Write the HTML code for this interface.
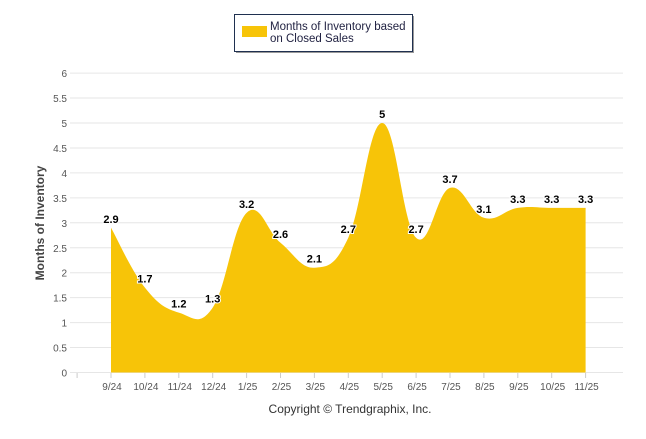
<!DOCTYPE html>
<html><head><meta charset="utf-8"><style>
body{margin:0;background:#fff;font-family:"Liberation Sans",sans-serif}
</style></head><body>
<svg width="646" height="434" xmlns="http://www.w3.org/2000/svg" font-family="Liberation Sans, sans-serif">
<g>
<rect x="234.5" y="14.5" width="178" height="37" fill="#fff" stroke="#1f3050"/>
<line x1="236" y1="52.5" x2="414" y2="52.5" stroke="#999"/>
<line x1="413.5" y1="16" x2="413.5" y2="53" stroke="#999"/>
<rect x="242" y="26" width="25" height="11" fill="#f7c408"/>
<text x="270" y="30" font-size="11.5" fill="#1f2040">Months of Inventory based</text>
<text x="270" y="42" font-size="11.5" fill="#1f2040">on Closed Sales</text>
</g>
<g id="grid"></g><g id="area"></g><g id="labels"></g><g id="axis"></g>
<text x="44" y="223" transform="rotate(-90 44 223)" text-anchor="middle" font-size="12" font-weight="bold" fill="#444">Months of Inventory</text>
<text x="350" y="413" text-anchor="middle" font-size="12" fill="#333">Copyright © Trendgraphix, Inc.</text>
</svg>
<script>
const categories=["9/24","10/24","11/24","12/24","1/25","2/25","3/25","4/25","5/25","6/25","7/25","8/25","9/25","10/25","11/25"];
const values=[2.9,1.7,1.2,1.3,3.2,2.6,2.1,2.7,5,2.7,3.7,3.1,3.3,3.3,3.3];
const yTicks=[0,0.5,1,1.5,2,2.5,3,3.5,4,4.5,5,5.5,6];
const NS="http://www.w3.org/2000/svg";
const x=i=>111+i*33.9, y=v=>372.5-v*49.9;
function mk(t,a,p){const e=document.createElementNS(NS,t);for(const k in a)e.setAttribute(k,a[k]);p.appendChild(e);return e;}
const grid=document.getElementById('grid'),axis=document.getElementById('axis'),lab=document.getElementById('labels'),area=document.getElementById('area');
yTicks.forEach(v=>{
 const l=mk('line',{x1:70,x2:623,y1:y(v),y2:y(v),stroke:'#e6e6e6'},grid);
 
 
 const t=mk('text',{x:67,y:y(v)+4,'text-anchor':'end','font-size':10,fill:'#555'},axis);
 t.textContent=v;
 
 
});
for(let i=-1;i<categories.length;i++){
 const tk=mk('line',{x1:x(i),x2:x(i),y1:373,y2:378,stroke:'#ccc'},axis);
 
 
}
categories.forEach((c,i)=>{
 const t=mk('text',{x:x(i)+1,y:390,'text-anchor':'middle','font-size':10,fill:'#555'},axis);
 t.textContent=c;
 
 
});
const P=values.map((v,i)=>[x(i),y(v)]);
let d=`M${P[0][0]},${y(0)}L${P[0][0]},${P[0][1]}`;
for(let i=0;i<P.length-1;i++){
 const p0=P[Math.max(0,i-1)],p1=P[i],p2=P[i+1],p3=P[Math.min(P.length-1,i+2)];
 const k=0.2;
 const c1=[p1[0]+(p2[0]-p0[0])*k,p1[1]+(p2[1]-p0[1])*k];
 const c2=[p2[0]-(p3[0]-p1[0])*k,p2[1]-(p3[1]-p1[1])*k];
 d+=`C${c1[0]},${c1[1]} ${c2[0]},${c2[1]} ${p2[0]},${p2[1]}`;
}
d+=`L${P[P.length-1][0]},${y(0)}Z`;
const pa=mk('path',{d:d,fill:'#f7c408'},area);


values.forEach((v,i)=>{
 const t=mk('text',{x:x(i),y:y(v)-5,'text-anchor':'middle','font-size':11,'font-weight':'bold',fill:'#000',stroke:'#fff','stroke-width':2,'paint-order':'stroke'},lab);
 t.textContent=v;
 
 
});
</script>
</body></html>
